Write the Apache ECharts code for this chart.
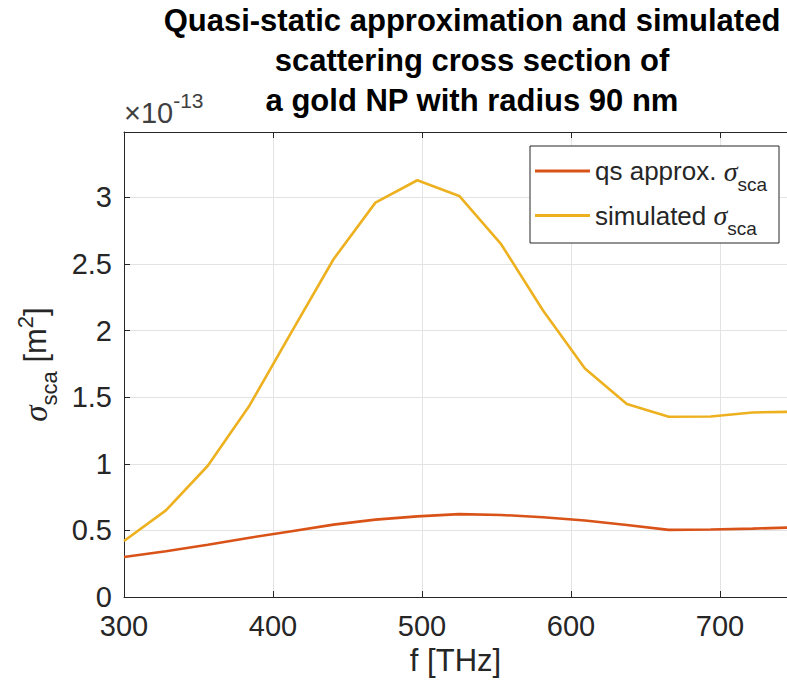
<!DOCTYPE html>
<html>
<head>
<meta charset="utf-8">
<script src="https://cdn.jsdelivr.net/npm/echarts@6/dist/echarts.min.js"></script>
<style>
html,body{margin:0;padding:0;background:#fff;}
#chart{width:787px;height:689px;}
</style>
</head>
<body>
<div id="chart"></div>
<script>
// ---- data ----
const freqs = [300, 328.125, 356.25, 384.375, 412.5, 440.625, 468.75, 496.875, 525, 553.125, 581.25, 609.375, 637.5, 665.625, 693.75, 721.875, 750];
const qsApprox = [0.300, 0.343, 0.392, 0.445, 0.494, 0.543, 0.581, 0.605, 0.622, 0.616, 0.598, 0.574, 0.541, 0.504, 0.507, 0.513, 0.522];
const simulated = [0.42, 0.65, 0.985, 1.44, 1.99, 2.535, 2.96, 3.128, 3.01, 2.648, 2.15, 1.715, 1.448, 1.353, 1.355, 1.385, 1.39];
const seriesNames = ['qs approx.', 'simulated'];
const titleLines = ['Quasi-static approximation and simulated', 'scattering cross section of', 'a gold NP with radius 90 nm'];
const xName = 'f [THz]';
const exponentText = ['×10', '-13'];

const FONT = '"Liberation Sans", Arial, Helvetica, sans-serif';
const GREEK = '"Liberation Serif", "DejaVu Serif", serif';
const INK = '#262626';

const chart = echarts.init(document.getElementById('chart'), null, {renderer: 'svg'});
const pairs = vals => freqs.map((f, i) => [f, vals[i]]);

const legendRich = {
  t: {fontSize: 26, fontFamily: FONT, color: INK},
  s: {fontSize: 28, fontFamily: GREEK, fontStyle: 'italic', color: INK},
  sub: {fontSize: 19, fontFamily: FONT, color: INK, padding: [26, 0, 0, 0]}
};

chart.setOption({
  animation: false,
  backgroundColor: '#ffffff',
  title: [{
    text: titleLines.join('\n'),
    left: 472, top: 0, padding: 0,
    textAlign: 'center',
    textStyle: {fontFamily: FONT, fontSize: 31, fontWeight: 'bold', color: '#000', lineHeight: 40}
  }, {
    text: '{a|' + exponentText[0] + '}{b|' + exponentText[1] + '}',
    left: 124, top: 90, padding: 0,
    textStyle: {
      fontWeight: 'normal',
      rich: {
        a: {fontFamily: FONT, fontSize: 29, fontWeight: 'normal', color: '#404040'},
        b: {fontFamily: FONT, fontSize: 21, fontWeight: 'normal', color: '#404040', padding: [0, 0, 24, 0]}
      }
    }
  }],
  legend: {
    orient: 'vertical',
    left: 530, top: 146,
    padding: [11, 12, 5, 5],
    itemGap: 8,
    itemWidth: 55, itemHeight: 3,
    icon: 'rect',
    borderColor: INK, borderWidth: 1,
    backgroundColor: '#fff',
    data: seriesNames,
    formatter: name => '{t|' + name + ' }{s|σ}{sub|sca}',
    textStyle: {rich: legendRich}
  },
  grid: {left: 124, right: -3, top: 132, bottom: 92, containLabel: false},
  xAxis: [{
    type: 'value', min: 300, max: 745, interval: 100,
    name: xName, nameLocation: 'middle', nameGap: 46,
    nameTextStyle: {fontFamily: FONT, fontSize: 31, color: INK},
    axisLine: {show: true, lineStyle: {color: INK, width: 1}},
    axisTick: {show: true, inside: true, length: 6, lineStyle: {color: INK}},
    axisLabel: {fontFamily: FONT, fontSize: 29, color: INK, margin: 14, showMaxLabel: false},
    splitLine: {show: true, lineStyle: {color: '#e3e3e3', width: 1}}
  }, {
    type: 'value', position: 'top', min: 300, max: 745, interval: 100,
    axisLine: {show: true, onZero: false, lineStyle: {color: INK, width: 1}},
    axisTick: {show: true, inside: true, length: 6, lineStyle: {color: INK}},
    axisLabel: {show: false},
    splitLine: {show: false}
  }],
  yAxis: {
    type: 'value', min: 0, max: 3.49, interval: 0.5,
    name: '{s|σ}{sub|sca}{t| [m}{sup|2}{t|]}',
    nameLocation: 'middle', nameGap: 62, nameRotate: 90,
    nameTextStyle: {
      rich: {
        s: {fontSize: 33, fontFamily: GREEK, fontStyle: 'italic', color: INK},
        t: {fontSize: 31, fontFamily: FONT, color: INK},
        sub: {fontSize: 22, fontFamily: FONT, color: INK, padding: [28, 0, 0, 0]},
        sup: {fontSize: 22, fontFamily: FONT, color: INK, padding: [0, 0, 20, 0]}
      }
    },
    axisLine: {show: true, lineStyle: {color: INK, width: 1}},
    axisTick: {show: true, inside: true, length: 6, lineStyle: {color: INK}},
    axisLabel: {fontFamily: FONT, fontSize: 29, color: INK, margin: 12, showMaxLabel: false},
    splitLine: {show: true, lineStyle: {color: '#e3e3e3', width: 1}}
  },
  series: [{
    name: seriesNames[0], type: 'line', data: pairs(qsApprox),
    symbol: 'none', color: '#D95319', lineStyle: {width: 2.6, color: '#D95319'}, clip: true, z: 3
  }, {
    name: seriesNames[1], type: 'line', data: pairs(simulated),
    symbol: 'none', color: '#EDB120', lineStyle: {width: 2.6, color: '#EDB120'}, clip: true, z: 2
  }]
});
</script>
</body>
</html>
